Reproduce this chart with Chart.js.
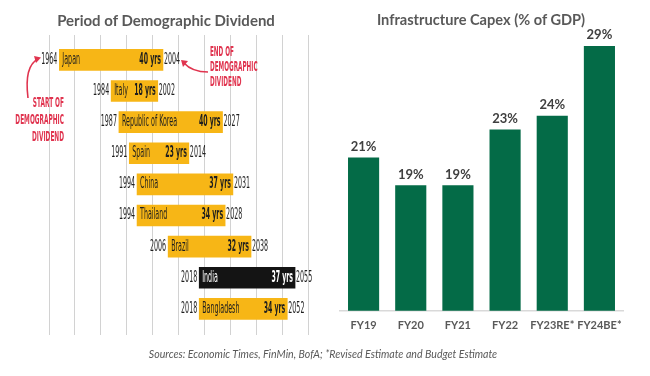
<!DOCTYPE html>
<html>
<head>
<meta charset="utf-8">
<script src="https://cdn.jsdelivr.net/npm/chart.js@4"></script>
<style>
  html,body{margin:0;padding:0;background:#fff;}
  #wrap{position:relative;width:650px;height:376px;overflow:hidden;}
  #left{position:absolute;left:0;top:0;}
  #right{position:absolute;left:330px;top:0;}
  .title{position:absolute;font-family:Lato,"Open Sans",sans-serif;font-weight:bold;color:#595959;white-space:nowrap;transform:translate(-50%,-50%);}
  #foot{position:absolute;left:323px;top:354px;transform:translate(-50%,-50%);font-family:Lato,sans-serif;font-style:italic;font-size:10.6px;color:#595959;white-space:nowrap;}
</style>
</head>
<body>
<div id="wrap">
  <canvas id="left" width="330" height="376"></canvas>
  <canvas id="right" width="320" height="376"></canvas>
  <div class="title" style="left:166px;top:20px;font-size:15px;">Period of Demographic Dividend</div>
  <div class="title" style="left:481px;top:19px;font-size:14.6px;">Infrastructure Capex (% of GDP)</div>
  <div id="foot">Sources: Economic Times, FinMin, BofA; *Revised Estimate and Budget Estimate</div>
</div>
<script>
// ---- Left chart data ----
const countries  = ['Japan','Italy','Republic of Korea','Spain','China','Thailand','Brazil','India','Bangladesh'];
const startYears = [1964, 1984, 1987, 1991, 1994, 1994, 2006, 2018, 2018];
const endYears   = [2004, 2002, 2027, 2014, 2031, 2028, 2038, 2055, 2052];
const spanLabels = ['40 yrs','18 yrs','40 yrs','23 yrs','37 yrs','34 yrs','32 yrs','37 yrs','34 yrs'];
const highlightCountry = 'India';

// ---- Right chart data ----
const fyLabels  = ['FY19','FY20','FY21','FY22','FY23RE*','FY24BE*'];
const capexPct  = [21, 19, 19, 23, 24, 29];

const NARROW = '"Liberation Sans Narrow","DejaVu Sans Condensed",sans-serif';

function cText(ctx, txt, x, y, align, font, color, sx){
  ctx.save();
  ctx.font = font; ctx.fillStyle = color; ctx.textBaseline = 'middle';
  ctx.translate(x, y); ctx.scale(sx, 1);
  ctx.textAlign = align;
  ctx.fillText(txt, 0, 0);
  ctx.restore();
}

const ganttLabels = {
  id: 'ganttLabels',
  afterDatasetsDraw(chart){
    const ctx = chart.ctx;
    const meta = chart.getDatasetMeta(0);
    meta.data.forEach((el, i) => {
      const p = el.getProps(['x','y','base'], true);
      const x0 = Math.min(p.x, p.base), x1 = Math.max(p.x, p.base);
      const hi = countries[i] === highlightCountry;
      const inner = hi ? '#ffffff' : '#1e1e1e';
      cText(ctx, String(startYears[i]), x0 - 2, p.y, 'right', '15px ' + NARROW, '#1e1e1e', 0.47);
      cText(ctx, String(endYears[i]), x1 + 1, p.y, 'left', '15px ' + NARROW, '#1e1e1e', 0.47);
      cText(ctx, countries[i], x0 + 3, p.y, 'left', '15px ' + NARROW, inner, 0.47);
      cText(ctx, spanLabels[i], x1 - 2, p.y, 'right', 'bold 15px ' + NARROW, inner, 0.46);
    });
  },
  afterDraw(chart){
    const ctx = chart.ctx;
    const red = '#e0344f';
    ['START OF','DEMOGRAPHIC','DIVIDEND'].forEach((t, k) => {
      cText(ctx, t, 64, 103 + k*17, 'right', 'bold 14px ' + NARROW, red, 0.46);
    });
    ['END OF','DEMOGRAPHIC','DIVIDEND'].forEach((t, k) => {
      cText(ctx, t, 210, 52 + k*15, 'left', 'bold 14px ' + NARROW, red, 0.45);
    });
    ctx.save();
    ctx.strokeStyle = red; ctx.fillStyle = red; ctx.lineWidth = 1.6;
    ctx.beginPath();
    ctx.moveTo(28, 98);
    ctx.quadraticCurveTo(24, 66, 38, 59);
    ctx.stroke();
    ctx.beginPath();
    ctx.moveTo(41, 57.5); ctx.lineTo(34, 56); ctx.lineTo(36, 63); ctx.closePath(); ctx.fill();
    ctx.beginPath();
    ctx.moveTo(208, 72);
    ctx.quadraticCurveTo(192, 72, 184, 63);
    ctx.stroke();
    ctx.beginPath();
    ctx.moveTo(181, 60); ctx.lineTo(188, 61); ctx.lineTo(183, 67); ctx.closePath(); ctx.fill();
    ctx.restore();
  }
};

new Chart(document.getElementById('left'), {
  type: 'bar',
  data: {
    datasets: [{
      data: countries.map((c, i) => ({ x: [startYears[i], endYears[i]], y: i })),
      backgroundColor: countries.map(c => c === highlightCountry ? '#141414' : '#f7b616'),
      barThickness: 21,
      borderSkipped: false
    }]
  },
  options: {
    indexAxis: 'y',
    responsive: false,
    animation: false,
    events: [],
    layout: { padding: { left: 49, right: 22, top: 35, bottom: 41 } },
    plugins: { legend: { display: false }, tooltip: { enabled: false } },
    scales: {
      x: {
        type: 'linear', min: 1960, max: 2060,
        ticks: { display: false, stepSize: 10 },
        grid: { color: '#d2d2d2', drawTicks: false, lineWidth: 1 },
        border: { display: false }
      },
      y: { type: 'linear', min: -0.8, max: 8.84, reverse: true, offset: false, display: false, grid: { offset: false } }
    }
  },
  plugins: [ganttLabels]
});

const valueLabels = {
  id: 'valueLabels',
  afterDatasetsDraw(chart){
    const ctx = chart.ctx;
    const meta = chart.getDatasetMeta(0);
    ctx.save();
    ctx.font = 'bold 13px Lato, sans-serif';
    ctx.fillStyle = '#404040';
    ctx.textAlign = 'center';
    ctx.textBaseline = 'middle';
    meta.data.forEach((el, i) => {
      ctx.fillText(capexPct[i] + '%', el.x, el.y - 11);
    });
    ctx.restore();
  }
};

new Chart(document.getElementById('right'), {
  type: 'bar',
  data: {
    labels: fyLabels,
    datasets: [{
      data: capexPct,
      backgroundColor: '#046b47',
      categoryPercentage: 1,
      barPercentage: 0.66
    }]
  },
  options: {
    responsive: false,
    animation: false,
    events: [],
    layout: { padding: { left: 10, right: 27, top: 32, bottom: 36 } },
    plugins: { legend: { display: false }, tooltip: { enabled: false } },
    scales: {
      x: {
        grid: { display: false, drawTicks: false },
        border: { display: true, color: '#d9d9d9', width: 1.5 },
        ticks: { padding: 8, autoSkip: false, maxRotation: 0, minRotation: 0, color: '#595959', font: { family: 'Lato, sans-serif', size: 11, weight: 'bold' } }
      },
      y: { min: 10, max: 30, display: false }
    }
  },
  plugins: [valueLabels]
});
</script>
</body>
</html>
